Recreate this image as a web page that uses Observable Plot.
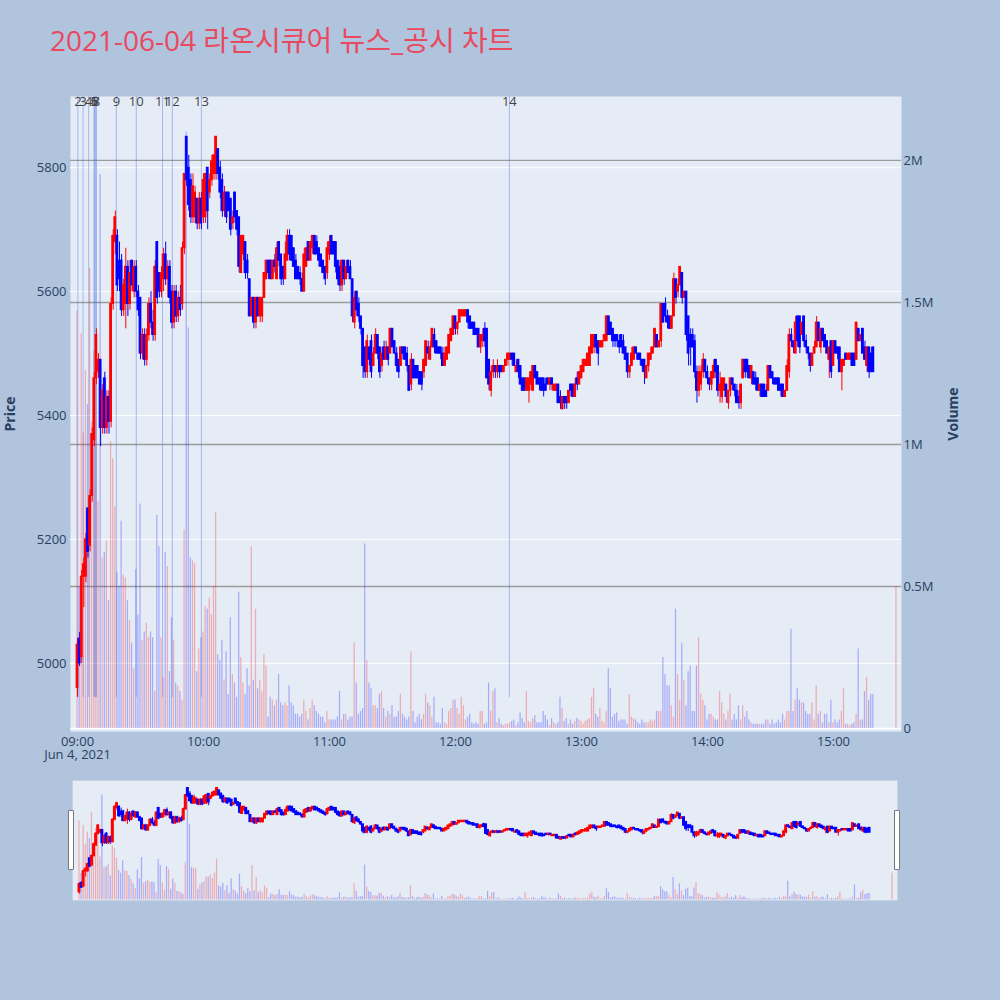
<!DOCTYPE html>
<html><head><meta charset="utf-8">
<script src="https://cdn.jsdelivr.net/npm/d3@7"></script>
<script src="https://cdn.jsdelivr.net/npm/@observablehq/plot@0.6"></script>
<style>
body{margin:0;background:#b0c4de;}
#wrap{position:relative;width:1000px;height:1000px;background:#b0c4de;font-family:"Open Sans",sans-serif;overflow:hidden;}
#wrap svg{position:absolute;left:0;}
#title{position:absolute;left:50px;top:21px;font-size:28px;color:#e9495f;font-family:"Open Sans","Noto Sans CJK KR",sans-serif;white-space:nowrap;line-height:38px;}
.handle{position:absolute;width:4px;height:58px;background:#fff;border:1px solid #777;border-radius:1px;}
#err{position:absolute;left:300px;top:950px;color:#000;font-size:12px;}
</style></head><body><div id="wrap"><div id="title">2021-06-04 라온시큐어 뉴스_공시 차트</div></div>
<script>
const tradeDate = "2021-06-04";
const sessionStart = "09:00";
const auctionTime = "15:30";
// one-minute candles 09:00 ... 15:19, then the 15:30 closing auction
const opens = [
4960,5040,5010,5140,5140,5250,5190,5270,5360,5460,
5470,5490,5380,5460,5380,5430,5390,5580,5680,5690,
5650,5650,5570,5580,5640,5580,5650,5600,5640,5600,
5590,5500,5530,5490,5530,5580,5550,5530,5680,5630,
5600,5620,5660,5620,5640,5600,5550,5600,5560,5590,
5580,5670,5850,5800,5780,5720,5720,5750,5710,5750,
5720,5720,5800,5760,5780,5790,5790,5830,5800,5780,
5730,5760,5760,5750,5710,5760,5730,5720,5630,5660,
5680,5650,5620,5560,5590,5550,5590,5560,5560,5590,
5620,5650,5650,5620,5650,5620,5680,5660,5640,5620,
5650,5690,5690,5670,5650,5640,5630,5620,5600,5640,
5680,5650,5670,5690,5680,5670,5660,5650,5640,5630,
5660,5690,5680,5680,5650,5640,5610,5650,5620,5650,
5640,5620,5550,5600,5580,5560,5540,5510,5470,5510,
5520,5480,5500,5530,5510,5480,5510,5490,5510,5500,
5540,5520,5500,5490,5480,5510,5510,5500,5480,5450,
5490,5480,5480,5470,5470,5470,5480,5510,5490,5510,
5530,5520,5510,5510,5500,5480,5490,5500,5520,5530,
5560,5540,5550,5560,5560,5560,5570,5560,5550,5550,
5540,5540,5510,5520,5540,5540,5490,5440,5470,5480,
5470,5480,5480,5470,5480,5490,5490,5500,5500,5470,
5490,5480,5460,5460,5440,5440,5450,5440,5480,5470,
5460,5460,5460,5450,5460,5450,5460,5440,5440,5450,
5430,5410,5430,5430,5420,5450,5450,5430,5460,5450,
5460,5470,5480,5480,5480,5500,5510,5530,5520,5510,
5510,5520,5520,5560,5550,5540,5530,5530,5520,5530,
5520,5510,5500,5470,5480,5490,5510,5500,5500,5490,
5490,5460,5480,5490,5500,5510,5530,5510,5520,5580,
5580,5560,5560,5540,5560,5620,5600,5610,5630,5590,
5600,5560,5530,5530,5520,5470,5440,5450,5470,5490,
5470,5460,5450,5460,5490,5480,5440,5430,5440,5450,
5420,5440,5460,5450,5440,5430,5420,5460,5490,5490,
5480,5460,5470,5460,5460,5440,5450,5450,5440,5440,
5480,5470,5460,5460,5460,5450,5450,5430,5440,5470,
5530,5520,5500,5560,5560,5530,5560,5520,5510,5500,
5480,5500,5510,5550,5510,5540,5530,5520,5490,5520,
5480,5520,5510,5510,5470,5480,5500,5490,5490,5500,
5500,5490,5540,5520,5540,5510,5480,5510,5500,5510,
5490];
const highs = [
5040,5050,5150,5170,5210,5250,5280,5380,5470,5540,
5500,5490,5450,5470,5440,5440,5590,5700,5730,5700,
5680,5660,5620,5670,5650,5650,5650,5650,5650,5610,
5590,5540,5540,5540,5590,5600,5570,5650,5680,5630,
5640,5670,5680,5650,5650,5610,5610,5610,5600,5610,
5680,5790,5850,5820,5790,5790,5770,5750,5760,5760,
5790,5790,5800,5790,5820,5820,5850,5830,5810,5790,
5770,5760,5760,5750,5730,5760,5730,5720,5690,5690,
5680,5660,5620,5590,5590,5590,5590,5590,5590,5630,
5650,5650,5650,5650,5660,5680,5680,5660,5640,5680,
5700,5700,5690,5670,5660,5640,5640,5630,5670,5670,
5680,5680,5690,5690,5690,5670,5660,5650,5640,5680,
5690,5690,5680,5680,5650,5650,5650,5650,5650,5650,
5650,5620,5600,5600,5590,5560,5540,5510,5530,5510,
5530,5510,5540,5530,5510,5510,5520,5520,5510,5540,
5540,5520,5510,5490,5510,5510,5510,5510,5480,5500,
5490,5480,5480,5470,5470,5490,5520,5520,5520,5540,
5540,5520,5510,5510,5510,5510,5510,5530,5540,5560,
5560,5550,5570,5570,5570,5570,5570,5560,5550,5550,
5540,5540,5530,5540,5550,5540,5490,5480,5490,5480,
5490,5480,5480,5480,5490,5500,5500,5500,5500,5490,
5490,5480,5460,5460,5460,5460,5470,5480,5480,5470,
5460,5460,5460,5460,5460,5460,5460,5450,5450,5450,
5440,5430,5430,5430,5440,5450,5450,5460,5470,5470,
5480,5490,5490,5500,5510,5530,5530,5530,5520,5520,
5520,5530,5560,5560,5550,5540,5530,5530,5530,5530,
5530,5510,5500,5480,5510,5510,5510,5500,5500,5490,
5490,5480,5500,5510,5510,5540,5530,5520,5580,5580,
5590,5570,5560,5560,5630,5620,5620,5640,5630,5600,
5600,5560,5540,5540,5530,5480,5480,5480,5500,5490,
5480,5460,5470,5490,5490,5480,5470,5460,5460,5450,
5440,5460,5460,5450,5450,5440,5450,5490,5490,5490,
5480,5480,5470,5470,5460,5450,5450,5450,5450,5480,
5480,5470,5460,5460,5460,5450,5450,5440,5490,5540,
5540,5520,5560,5560,5560,5550,5560,5530,5510,5500,
5500,5520,5560,5550,5540,5540,5530,5520,5510,5520,
5520,5520,5510,5510,5490,5490,5500,5500,5500,5500,
5500,5550,5540,5530,5540,5520,5510,5510,5510,5510,
5490];
const lows = [
4945,4995,5000,5090,5130,5170,5180,5260,5350,5450,
5460,5350,5370,5370,5370,5370,5380,5570,5660,5600,
5600,5560,5560,5540,5560,5570,5600,5590,5590,5560,
5490,5490,5480,5480,5520,5540,5520,5520,5580,5590,
5590,5600,5610,5590,5580,5540,5540,5550,5550,5560,
5570,5660,5770,5730,5710,5710,5710,5700,5700,5700,
5710,5710,5700,5750,5770,5780,5780,5780,5750,5720,
5720,5710,5730,5690,5700,5710,5690,5630,5630,5650,
5620,5620,5560,5560,5540,5540,5560,5550,5550,5590,
5620,5620,5620,5620,5630,5620,5640,5610,5610,5620,
5650,5650,5650,5640,5620,5620,5610,5600,5600,5640,
5650,5650,5660,5660,5660,5640,5640,5630,5610,5620,
5650,5660,5660,5630,5610,5600,5600,5610,5620,5630,
5620,5550,5540,5560,5550,5530,5460,5460,5460,5480,
5460,5480,5500,5490,5460,5470,5490,5490,5480,5500,
5510,5500,5470,5460,5480,5490,5490,5470,5440,5440,
5460,5460,5460,5450,5440,5460,5480,5490,5490,5510,
5500,5500,5500,5490,5480,5480,5490,5500,5520,5530,
5530,5530,5550,5560,5560,5560,5540,5540,5540,5530,
5530,5510,5500,5510,5510,5460,5440,5430,5460,5460,
5460,5460,5470,5470,5480,5480,5490,5480,5480,5470,
5460,5450,5440,5440,5440,5420,5440,5440,5460,5450,
5440,5440,5430,5440,5450,5440,5440,5440,5440,5420,
5410,5410,5410,5410,5420,5430,5430,5430,5440,5450,
5460,5470,5480,5480,5480,5500,5500,5500,5480,5510,
5510,5520,5520,5530,5530,5510,5510,5510,5500,5510,
5500,5490,5460,5460,5480,5490,5500,5490,5480,5470,
5450,5460,5470,5490,5500,5510,5510,5510,5510,5550,
5550,5540,5540,5540,5560,5580,5590,5610,5580,5590,
5520,5480,5480,5510,5460,5420,5430,5440,5460,5460,
5450,5440,5440,5460,5460,5430,5420,5420,5440,5420,
5410,5430,5440,5430,5420,5410,5410,5460,5460,5460,
5460,5450,5450,5440,5440,5430,5430,5430,5430,5440,
5460,5450,5450,5450,5440,5430,5430,5430,5440,5460,
5510,5500,5500,5510,5500,5530,5510,5500,5490,5470,
5480,5500,5510,5520,5500,5520,5510,5500,5460,5460,
5480,5500,5490,5470,5440,5480,5490,5490,5490,5480,
5480,5490,5520,5520,5500,5490,5470,5460,5470,5470,
5490];
const closes = [
5030,5000,5140,5160,5200,5180,5270,5370,5460,5530,
5490,5380,5440,5380,5430,5390,5580,5690,5720,5610,
5620,5570,5610,5640,5580,5630,5610,5640,5600,5570,
5500,5530,5490,5530,5580,5550,5530,5640,5590,5600,
5630,5660,5620,5640,5590,5550,5600,5560,5590,5570,
5670,5790,5780,5740,5720,5770,5760,5710,5750,5710,
5780,5790,5730,5780,5810,5820,5850,5790,5760,5730,
5760,5720,5730,5700,5720,5720,5700,5640,5690,5690,
5630,5630,5560,5590,5550,5590,5560,5590,5590,5630,
5650,5630,5620,5650,5640,5670,5650,5620,5620,5660,
5690,5660,5650,5640,5620,5620,5620,5600,5660,5670,
5650,5680,5690,5660,5660,5650,5640,5630,5620,5670,
5680,5660,5660,5640,5620,5610,5650,5620,5640,5630,
5620,5560,5590,5570,5560,5540,5480,5470,5520,5490,
5470,5500,5530,5500,5470,5500,5490,5510,5490,5540,
5510,5500,5480,5470,5510,5500,5490,5480,5440,5490,
5460,5460,5460,5450,5450,5490,5520,5500,5510,5540,
5510,5500,5500,5500,5480,5500,5510,5530,5540,5560,
5540,5550,5570,5570,5570,5570,5550,5540,5540,5530,
5530,5510,5530,5530,5520,5460,5450,5470,5480,5470,
5480,5470,5470,5480,5490,5500,5500,5490,5480,5480,
5470,5450,5440,5440,5460,5460,5470,5480,5460,5450,
5450,5440,5440,5440,5450,5460,5450,5450,5450,5420,
5420,5430,5420,5420,5440,5440,5430,5450,5450,5470,
5480,5490,5490,5500,5510,5530,5530,5510,5500,5520,
5520,5530,5560,5530,5530,5520,5520,5520,5510,5510,
5500,5490,5470,5480,5500,5510,5500,5490,5490,5480,
5470,5480,5500,5500,5510,5540,5510,5520,5580,5550,
5560,5550,5540,5560,5620,5590,5610,5640,5590,5600,
5530,5500,5510,5510,5470,5440,5470,5470,5490,5470,
5460,5450,5470,5480,5470,5440,5450,5460,5460,5430,
5440,5460,5450,5440,5420,5420,5450,5490,5470,5470,
5460,5480,5450,5450,5440,5450,5430,5430,5430,5480,
5460,5460,5450,5450,5440,5440,5430,5440,5480,5530,
5520,5510,5550,5520,5510,5550,5520,5510,5500,5480,
5500,5510,5550,5520,5540,5520,5510,5500,5510,5470,
5520,5500,5500,5470,5490,5490,5490,5500,5500,5480,
5480,5550,5520,5530,5500,5490,5510,5470,5470,5470,
5490];
// traded volume, thousands of shares
const volumesK = [
1470,500,1390,1040,1260,1140,1620,1080,1330,1240,
800,1950,600,620,660,450,1010,950,780,550,
500,730,540,530,450,380,300,210,560,400,
790,310,340,370,320,340,320,130,750,640,
320,180,620,570,200,390,310,160,150,130,
100,700,2100,1410,600,590,580,200,280,320,
340,430,420,460,400,500,760,260,240,310,
170,270,120,390,190,160,110,480,250,160,
120,210,150,640,170,420,140,170,130,260,
220,40,110,100,80,100,190,90,80,90,
80,150,90,80,50,50,40,50,100,60,
30,70,100,80,60,50,40,40,20,60,
30,30,30,30,40,130,30,50,50,30,
40,40,300,160,50,60,70,650,240,160,
140,80,80,70,120,130,70,40,60,50,
80,40,40,60,120,50,40,30,40,270,
60,20,40,50,30,50,120,90,80,40,
110,20,20,15,70,20,15,60,70,100,
100,70,50,110,80,30,40,50,20,15,
20,15,60,60,15,20,160,60,130,140,
20,35,15,10,15,15,20,25,30,10,
20,55,35,20,130,25,20,35,45,20,
20,20,60,45,30,10,35,20,15,20,
110,70,25,35,15,30,15,25,35,30,
25,15,25,30,35,110,140,50,40,70,
25,20,60,210,140,40,50,55,25,30,
30,30,15,120,40,35,30,20,15,30,
20,20,20,30,25,30,60,60,60,250,
190,150,150,80,40,420,190,100,300,170,
80,200,220,60,60,220,320,120,100,80,
30,50,50,40,30,30,130,90,50,30,
60,120,30,50,30,80,30,80,40,60,
30,20,15,15,15,15,15,15,30,30,
15,30,15,20,30,20,50,30,60,60,
350,60,100,140,100,90,90,60,50,50,
90,30,150,50,60,20,50,50,20,100,
20,30,20,30,60,140,15,15,10,15,
20,50,280,30,30,130,180,100,120,120,
500];
const newsLabels = ["2","3","4","5","6","7","8","9","10","11","12","13","14"];
const newsTimes = ["09:00:10","09:02:40","09:05:20","09:07:50","09:08:10","09:08:40","09:09:00","09:18:30","09:28:00","09:40:30","09:45:10","09:59:00","12:25:40"];
const priceTicks = [5000,5200,5400,5600,5800];
const volumeTicks = [0,500000,1000000,1500000,2000000];
const volumeTickLabels = ["0","0.5M","1M","1.5M","2M"];
const hourTicks = ["09:00","10:00","11:00","12:00","13:00","14:00","15:00"];
const dateLabel = "Jun 4, 2021";

const at = s => new Date(`${tradeDate}T${s.length === 5 ? s + ":00" : s}Z`);
const start = at(sessionStart).getTime();
const n = opens.length;
const wrap = document.getElementById("wrap");
if (![highs, lows, closes, volumesK].every(a => a.length === n)) {
  const e = document.createElement("div"); e.id = "err";
  e.textContent = `length mismatch ${n} ${highs.length} ${lows.length} ${closes.length} ${volumesK.length}`;
  wrap.appendChild(e);
}
const MIN = 60000;
const candles = opens.map((o, i) => {
  const t = i < n - 1 ? new Date(start + i * MIN) : at(auctionTime);
  const c = closes[i];
  const color = c >= o ? "#ff0000" : "#0000ff";
  return {t, t1: new Date(+t - 0.42 * MIN), t2: new Date(+t + 0.42 * MIN),
    v1: new Date(+t - 0.3 * MIN), v2: new Date(+t + 0.3 * MIN),
    o, h: highs[i], l: lows[i], c, lo: Math.min(o, c), hi: Math.max(o, c),
    v: volumesK[i] * 1000, color};
});
const lowest = d3.min(lows);
const news = newsLabels.map((label, i) => ({label, t: at(newsTimes[i])}));
const volLabel = new Map(volumeTicks.map((v, i) => [v, volumeTickLabels[i]]));

const xDomain = [at("08:56:40"), at("15:32:24")];
const priceDomain = [4890, 5915];
const volumeDomain = [-10600, 2225000];
const pad = v => String(v).padStart(2, "0");
const timeFmt = d => `${pad(d.getUTCHours())}:${pad(d.getUTCMinutes())}` + (+d === +at(hourTicks[0]) ? "\n" + dateLabel : "");

const font = {background: "transparent", fontFamily: "'Open Sans', sans-serif", fontSize: "13px", color: "#2a3f5f", overflow: "visible"};
const main = {width: 1000, height: 760, marginLeft: 70, marginRight: 99, marginTop: 96, marginBottom: 29,
  color: {type: "identity"}, style: font};
const xHidden = {type: "utc", domain: xDomain, axis: null};

function place(svg, top) { svg.style.top = top + "px"; wrap.appendChild(svg); }

// layer 1: background, price grid, axes
place(Plot.plot({...main, x: {type: "utc", domain: xDomain}, y: {domain: priceDomain},
  marks: [
    Plot.frame({fill: "#e5ecf6", stroke: "none"}),
    Plot.ruleY(priceTicks, {stroke: "#ffffff", strokeWidth: 1}),
    Plot.axisY({ticks: priceTicks, tickFormat: d => String(d), tickSize: 0, tickPadding: 4, label: null}),
    Plot.axisX({ticks: hourTicks.map(at), tickSize: 0, tickPadding: 5, tickFormat: timeFmt, label: null}),
    Plot.text(["Price"], {text: d => d, frameAnchor: "left", dx: -60, rotate: -90, textAnchor: "middle", fontWeight: "bold", fontSize: 14})
  ]}), 0);

// layer 2: volume
place(Plot.plot({...main, x: xHidden, y: {domain: volumeDomain},
  marks: [
    Plot.ruleY(volumeTicks.slice(1), {stroke: "#9c9c9c", strokeWidth: 1.4}),
    Plot.ruleY([0], {stroke: "#ffffff", strokeWidth: 1.5}),
    Plot.rect(candles, {x1: "v1", x2: "v2", y1: 0, y2: "v", fill: "color", fillOpacity: 0.27}),
    Plot.axisY({anchor: "right", ticks: volumeTicks, tickFormat: d => volLabel.get(d), tickSize: 0, tickPadding: 2, label: null}),
    Plot.text(["Volume"], {text: d => d, frameAnchor: "right", dx: 52, rotate: -90, textAnchor: "middle", fontWeight: "bold", fontSize: 14})
  ]}), 0);

// layer 3: candles and news markers
place(Plot.plot({...main, x: xHidden, y: {domain: priceDomain, axis: null},
  marks: [
    Plot.ruleX(news, {x: "t", y1: lowest, y2: priceDomain[1], stroke: "#4169e1", strokeOpacity: 0.4, strokeWidth: 1}),
    Plot.ruleX(candles, {x: "t", y1: "l", y2: "h", stroke: "color", strokeWidth: 1}),
    Plot.rect(candles, {x1: "t1", x2: "t2", y1: "lo", y2: "hi", fill: "color", stroke: "color", strokeWidth: 1}),
    Plot.text(news, {x: "t", text: "label", frameAnchor: "top", fontSize: 13, fill: "#444"})
  ]}), 0);

// range slider
const slider = {width: 1000, height: 120, marginLeft: 72, marginRight: 103, marginTop: 0, marginBottom: 0,
  x: xHidden, color: {type: "identity"}, style: font};
place(Plot.plot({...slider, y: {domain: volumeDomain, axis: null},
  marks: [
    Plot.frame({fill: "#e5ecf6", stroke: "#c8d2e0"}),
    Plot.rect(candles, {x1: "v1", x2: "v2", y1: 0, y2: "v", fill: "color", fillOpacity: 0.27})
  ]}), 780);
place(Plot.plot({...slider, y: {domain: priceDomain, axis: null},
  marks: [
    Plot.ruleX(candles, {x: "t", y1: "l", y2: "h", stroke: "color", strokeWidth: 1}),
    Plot.rect(candles, {x1: "t1", x2: "t2", y1: "lo", y2: "hi", fill: "color", stroke: "color", strokeWidth: 1.2})
  ]}), 780);

for (const left of [68, 894]) {
  const h = document.createElement("div"); h.className = "handle";
  h.style.left = left + "px"; h.style.top = "810px"; wrap.appendChild(h);
}
</script></body></html>
